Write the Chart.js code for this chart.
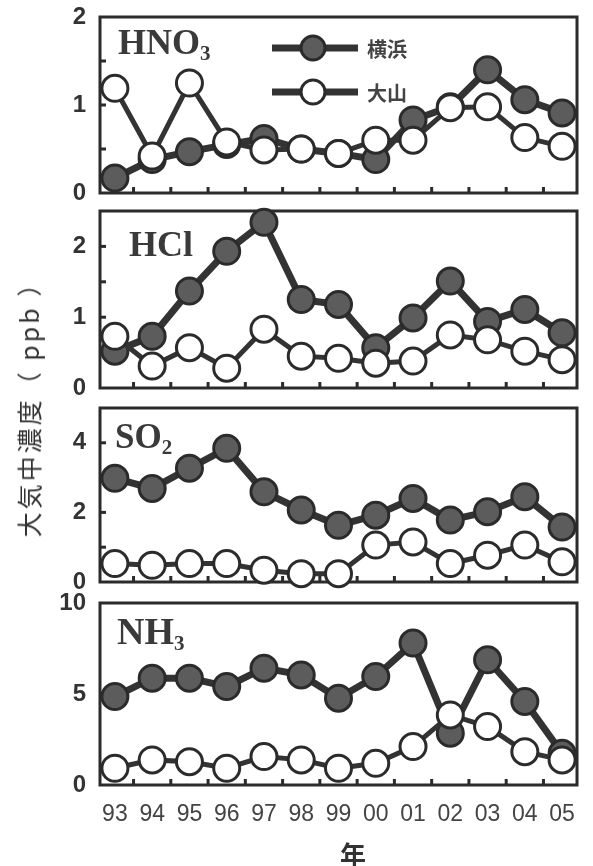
<!DOCTYPE html>
<html>
<head>
<meta charset="utf-8">
<script src="https://cdn.jsdelivr.net/npm/chart.js@4.4.1/dist/chart.umd.min.js"></script>
<style>
body{margin:0;background:#fff;width:593px;height:866px;position:relative;overflow:hidden}
canvas{position:absolute;left:0}
.gas{position:absolute;font-family:"Liberation Serif",serif;font-weight:bold;color:#3a3a3a;line-height:1;white-space:nowrap}
.gas sub{font-size:21px;vertical-align:-6px;line-height:1}
#ytitle{position:absolute;left:28px;top:403px;transform:translate(-50%,-50%) rotate(-90deg);font-family:"Noto Sans CJK JP",sans-serif;font-size:25px;letter-spacing:3px;color:#333;white-space:nowrap}
#xtitle{position:absolute;left:353px;top:853px;transform:translate(-50%,-50%);font-family:"Noto Sans CJK JP",sans-serif;font-weight:bold;font-size:26px;color:#333}
</style>
</head>
<body>
<canvas id="c1" width="593" height="236" style="top:-13px"></canvas>
<canvas id="c2" width="593" height="237" style="top:181px"></canvas>
<canvas id="c3" width="593" height="234" style="top:378px"></canvas>
<canvas id="c4" width="593" height="293" style="top:573px"></canvas>
<div class="gas" style="left:118px;top:24px;font-size:36px">HNO<sub>3</sub></div>
<div class="gas" style="left:129px;top:226px;font-size:36px">HCl</div>
<div class="gas" style="left:115px;top:419px;font-size:35px">SO<sub>2</sub></div>
<div class="gas" style="left:117px;top:612px;font-size:38px">NH<sub>3</sub></div>
<div id="ytitle">大気中濃度（ ppb ）</div>
<div id="xtitle">年</div>
<script>
const years = ['93', '94', '95', '96', '97', '98', '99', '00', '01', '02', '03', '04', '05'];
const seriesNames = ['横浜', '大山'];

const hno3Yokohama = [0.17, 0.38, 0.47, 0.55, 0.62, 0.5, 0.45, 0.38, 0.83, 0.98, 1.4, 1.06, 0.91];
const hno3Oyama = [1.19, 0.42, 1.25, 0.58, 0.49, 0.5, 0.45, 0.6, 0.6, 0.97, 0.98, 0.63, 0.53];
const hclYokohama = [0.52, 0.73, 1.37, 1.93, 2.34, 1.25, 1.18, 0.57, 0.99, 1.51, 0.94, 1.11, 0.78];
const hclOyama = [0.73, 0.31, 0.57, 0.28, 0.83, 0.45, 0.42, 0.35, 0.38, 0.75, 0.68, 0.52, 0.4];
const so2Yokohama = [2.98, 2.69, 3.27, 3.84, 2.59, 2.07, 1.63, 1.92, 2.4, 1.78, 2.02, 2.45, 1.58];
const so2Oyama = [0.53, 0.48, 0.53, 0.53, 0.34, 0.24, 0.24, 1.06, 1.15, 0.53, 0.77, 1.06, 0.58];
const nh3Yokohama = [4.86, 5.87, 5.87, 5.41, 6.42, 6.05, 4.77, 5.96, 7.8, 2.85, 6.88, 4.59, 1.74];
const nh3Oyama = [0.92, 1.38, 1.28, 0.92, 1.56, 1.38, 0.92, 1.19, 2.11, 3.85, 3.21, 1.83, 1.38];

const hno3Ticks = [0, 1, 2];
const hclTicks = [0, 1, 2];
const so2Ticks = [0, 2, 4];
const nh3Ticks = [0, 5, 10];

const dark = '#2b2b2b';
const xFont = { family: '"Liberation Sans Narrow", "Liberation Sans", sans-serif', size: 23 };
const yFont = { family: '"Liberation Sans Narrow", "Liberation Sans", sans-serif', size: 24, weight: 'bold' };

// box around plot + small inside tick marks
const frame = {
    id: 'frame',
    beforeDatasetsDraw(chart, args, opts) {
        const { ctx, chartArea: a, scales: { x, y } } = chart;
        ctx.save();
        ctx.fillStyle = dark;
        for (let v = opts.minor; v < y.max - 1e-6; v += opts.minor) {
            const py = y.getPixelForValue(v);
            ctx.fillRect(a.left, py - 1.5, 6, 3);
        }
        for (let i = 0; i < years.length - 1; i++) {
            const px = x.getPixelForValue(i + 0.5);
            ctx.fillRect(px - 1.5, a.bottom - 6, 3, 6);
        }
        ctx.strokeStyle = dark;
        ctx.lineWidth = 3;
        ctx.strokeRect(a.left, a.top, a.right - a.left, a.bottom - a.top);
        ctx.restore();
    }
};

const legendBox = {
    id: 'legendBox',
    afterDatasetsDraw(chart, args, opts) {
        if (!opts.show) return;
        const ctx = chart.ctx;
        const fills = ['#5c5c5c', '#ffffff'];
        const rows = [61, 105]; // canvas starts 13px above the page
        ctx.save();
        rows.forEach((yy, i) => {
            ctx.strokeStyle = '#333';
            ctx.lineWidth = 7;
            ctx.beginPath();
            ctx.moveTo(272, yy);
            ctx.lineTo(358, yy);
            ctx.stroke();
            ctx.beginPath();
            ctx.arc(313, yy, 12, 0, Math.PI * 2);
            ctx.fillStyle = fills[i];
            ctx.fill();
            ctx.lineWidth = 3;
            ctx.strokeStyle = dark;
            ctx.stroke();
            ctx.fillStyle = '#444';
            ctx.font = 'bold 20px "Noto Sans CJK JP", sans-serif';
            ctx.textBaseline = 'middle';
            ctx.fillText(seriesNames[i], 367, yy + 1);
        });
        ctx.restore();
    }
};

function toPoints(values) {
    return values.map((v, i) => ({ x: i, y: v }));
}

function makePanel(id, yokohama, oyama, yMax, yTicks, minor, padBottom, isLast, withLegend) {
    return new Chart(document.getElementById(id), {
        type: 'line',
        data: {
            datasets: [{
                label: seriesNames[0],
                data: toPoints(yokohama),
                borderColor: '#333',
                borderWidth: 7,
                pointRadius: 13,
                pointBorderWidth: 3,
                pointBackgroundColor: '#5c5c5c',
                pointBorderColor: dark,
                tension: 0,
                clip: false,
                order: 1
            }, {
                label: seriesNames[1],
                data: toPoints(oyama),
                borderColor: '#333',
                borderWidth: 5,
                pointRadius: 13,
                pointBorderWidth: 3,
                pointBackgroundColor: '#ffffff',
                pointBorderColor: dark,
                tension: 0,
                clip: false,
                order: 0
            }]
        },
        options: {
            responsive: false,
            animation: false,
            layout: { padding: { top: 30, bottom: padBottom, left: 0, right: 16 } },
            plugins: {
                legend: { display: false },
                tooltip: { enabled: false },
                frame: { minor },
                legendBox: { show: withLegend }
            },
            scales: {
                x: {
                    type: 'linear',
                    min: -0.4,
                    max: years.length - 0.6,
                    display: isLast,
                    afterBuildTicks: s => { s.ticks = years.map((_, i) => ({ value: i })); },
                    afterFit: s => { if (isLast) s.height = 81; },
                    grid: { display: false, drawTicks: false },
                    border: { display: false },
                    ticks: {
                        callback: v => years[v],
                        autoSkip: false,
                        maxRotation: 0,
                        padding: 16,
                        color: '#444',
                        font: xFont
                    }
                },
                y: {
                    min: 0,
                    max: yMax,
                    afterBuildTicks: s => { s.ticks = yTicks.map(v => ({ value: v })); },
                    afterFit: s => { s.width = 100; },
                    grid: { display: false, drawTicks: false },
                    border: { display: false },
                    ticks: { padding: 14, color: '#333', font: yFont }
                }
            }
        },
        plugins: [frame, legendBox]
    });
}

makePanel('c1', hno3Yokohama, hno3Oyama, 2, hno3Ticks, 0.5, 30, false, true);
makePanel('c2', hclYokohama, hclOyama, 2.5, hclTicks, 0.5, 30, false, false);
makePanel('c3', so2Yokohama, so2Oyama, 5, so2Ticks, 1, 30, false, false);
makePanel('c4', nh3Yokohama, nh3Oyama, 10, nh3Ticks, 5, 0, true, false);
</script>
</body>
</html>
